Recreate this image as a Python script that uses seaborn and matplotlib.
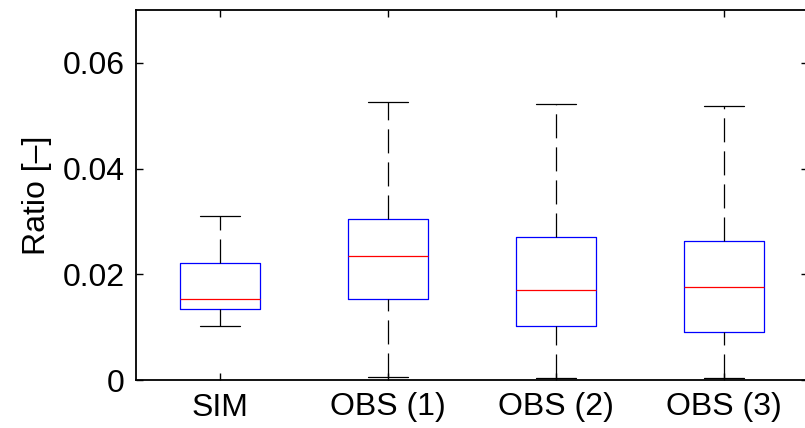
import matplotlib
matplotlib.use("Agg")
import matplotlib.pyplot as plt
import numpy as np
import pandas as pd
import seaborn as sns

# Five-number summaries per group: lower whisker, Q1, median, Q3, upper whisker
groups = ["SIM", "OBS (1)", "OBS (2)", "OBS (3)"]
whisker_low = [0.0102, 0.00057, 0.00045, 0.00045]
q1 = [0.0134, 0.01528, 0.01015, 0.00902]
median = [0.01528, 0.0234, 0.01696, 0.01758]
q3 = [0.0221, 0.0304, 0.0270, 0.02633]
whisker_high = [0.0310, 0.0526, 0.0522, 0.0519]
y_ticks = [0, 0.02, 0.04, 0.06]
y_tick_labels = ["0", "0.02", "0.04", "0.06"]

# With five samples per group the linear-interpolated quartiles fall exactly on
# Q1/median/Q3, and whis=(0, 100) puts the whiskers on the extremes.
rows = []
for g, lo, a, m, b, hi in zip(groups, whisker_low, q1, median, q3, whisker_high):
    for v in (lo, a, m, b, hi):
        rows.append({"group": g, "value": v})
df = pd.DataFrame(rows)

sns.set_theme(style="ticks")
plt.rcParams["font.family"] = ["Liberation Sans", "DejaVu Sans"]
plt.rcParams["lines.scale_dashes"] = False

fig = plt.figure(figsize=(8.05, 4.28), dpi=100)
ax = fig.add_axes([136 / 805, 48 / 428, 672 / 805, 370 / 428])

sns.boxplot(
    data=df, x="group", y="value", order=groups,
    whis=(0, 100), width=0.48, fill=False, ax=ax,
    boxprops={"color": "#0000ff", "linewidth": 0.9},
    medianprops={"color": "#ff0000", "linewidth": 0.9},
    whiskerprops={"color": "black", "linewidth": 0.9,
                  "linestyle": (0, (17.3, 6.5))},
    capprops={"color": "black", "linewidth": 0.9},
    flierprops={"marker": ""},
)

# Draw lower whiskers from the cap up to the box so the dash pattern starts at the cap
cont = ax.containers[0]
for wl in cont.whiskers:
    x, y = wl.get_xdata(), wl.get_ydata()
    if y[-1] < y[0]:
        wl.set_data(x[::-1], y[::-1])

ax.set_xlim(-0.5, 3.5)
ax.set_ylim(0, 0.07)
ax.set_yticks(y_ticks)
ax.set_yticklabels(y_tick_labels)
ax.set_xlabel("")
ax.set_ylabel("Ratio [–]", fontsize=23, labelpad=8, color="black")

ax.tick_params(axis="both", direction="in", length=5, width=1.0,
               labelsize=23, top=True, right=True, colors="black",
               labelcolor="black")
ax.tick_params(axis="x", pad=9)
ax.tick_params(axis="y", pad=8)
for side in ["left", "right", "top", "bottom"]:
    ax.spines[side].set_visible(True)
    ax.spines[side].set_color("black")
    ax.spines[side].set_linewidth(1.3)
ax.set_facecolor("white")
fig.patch.set_facecolor("white")

fig.savefig("out.png", dpi=100)
